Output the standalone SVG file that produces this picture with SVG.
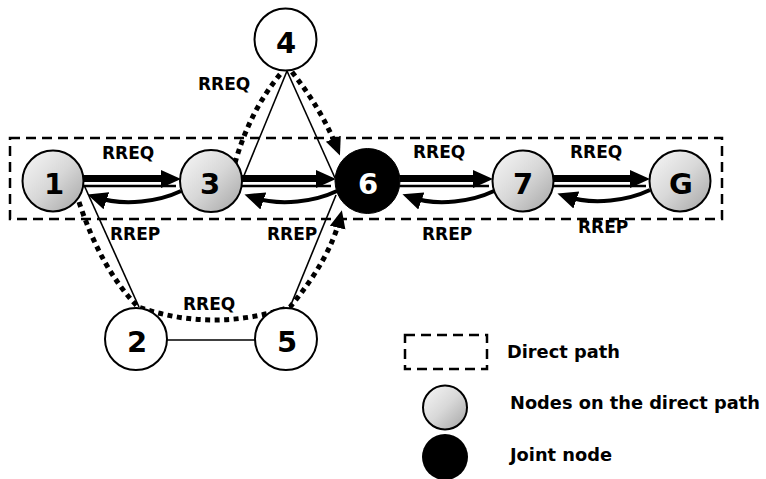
<svg xmlns="http://www.w3.org/2000/svg" width="766" height="479" viewBox="0 0 766 479">
<defs>
<linearGradient id="gr" x1="0" y1="0" x2="1" y2="1">
<stop offset="0" stop-color="#f8f8f8"/>
<stop offset="0.5" stop-color="#d8d8d8"/>
<stop offset="1" stop-color="#a4a4a4"/>
</linearGradient>
<marker id="ah" markerUnits="userSpaceOnUse" markerWidth="20" markerHeight="20" viewBox="0 0 20 20" refX="12" refY="10" orient="auto">
<path d="M0,1 L20,10 L0,19 z" fill="#000"/>
</marker>
<marker id="ahs" markerUnits="userSpaceOnUse" markerWidth="18" markerHeight="18" viewBox="0 0 18 18" refX="10" refY="9" orient="auto">
<path d="M0,1 L18,9 L0,17 z" fill="#000"/>
</marker>
</defs>
<style>
.lbl{font-family:"DejaVu Sans",Verdana,sans-serif;font-weight:bold;font-size:17px;fill:#000}
.leg{font-family:"DejaVu Sans",Verdana,sans-serif;font-weight:bold;font-size:17.8px;fill:#000}
.num{font-family:"DejaVu Sans",Verdana,sans-serif;font-weight:bold;font-size:29px;text-anchor:middle}
.dash{fill:none;stroke:#000;stroke-width:2.5;stroke-dasharray:10 6}
.thin{stroke:#000;stroke-width:1.6;fill:none}
.thick{stroke:#000;stroke-width:7;fill:none}
.thin2{stroke:#000;stroke-width:2.5;fill:none}
.rrep{stroke:#000;stroke-width:4;fill:none;marker-end:url(#ah)}
.dot{stroke:#000;stroke-width:5;fill:none;stroke-dasharray:5 4.5}
.pn{fill:url(#gr);stroke:#000;stroke-width:2}
.wn{fill:#fff;stroke:#000;stroke-width:2}
</style>
<rect width="766" height="479" fill="#fff"/>
<g id="direct-path">
<rect class="dash" x="10" y="138" width="712" height="81"/>
</g>
<g id="connectors">
<line class="thin" x1="84" y1="185" x2="139" y2="307"/>
<line class="thin" x1="167" y1="340" x2="255" y2="340"/>
<line class="thin" x1="290" y1="307" x2="336" y2="195"/>
<line class="thin" x1="243" y1="178" x2="287" y2="71"/>
<line class="thin" x1="287" y1="71" x2="335" y2="178"/>
<path class="dot" d="M79,202 Q101,269 138,307 Q214,333 290,307 Q330,259 340,218" marker-end="url(#ahs)"/>
<path class="dot" d="M235,163 Q250,110 282,72"/>
<path class="dot" d="M292,72 Q322,110 337,148" marker-end="url(#ahs)"/>
<g id="rreq-1-3">
<line class="thick" x1="84" y1="178.5" x2="163" y2="178.5"/>
<line class="thin2" x1="84" y1="186" x2="176" y2="186"/>
<polygon points="161,170 181,179 161,188"/>
</g>
<g id="rreq-3-6">
<line class="thick" x1="242" y1="178.5" x2="318" y2="178.5"/>
<line class="thin2" x1="242" y1="186" x2="331" y2="186"/>
<polygon points="316,170 336,179 316,188"/>
</g>
<g id="rreq-6-7">
<line class="thick" x1="400" y1="178.5" x2="475" y2="178.5"/>
<line class="thin2" x1="400" y1="186" x2="489" y2="186"/>
<polygon points="473,170 493,179 473,188"/>
</g>
<g id="rreq-7-G">
<line class="thick" x1="553" y1="178.5" x2="632" y2="178.5"/>
<line class="thin2" x1="553" y1="186" x2="646" y2="186"/>
<polygon points="630,170 650,179 630,188"/>
</g>
<path class="rrep" d="M181,191 C160,201 125,207 95,197"/>
<path class="rrep" d="M337,191 C316,201 281,207 252,197"/>
<path class="rrep" d="M494,191 C473,201 438,207 410,197"/>
<path class="rrep" d="M650,190 C629,200 594,206 565,196"/>
</g>
<g id="node-1"><circle class="pn" cx="53" cy="181" r="30.5"/><text class="num" x="54" y="194">1</text></g>
<g id="node-3"><circle class="pn" cx="211" cy="181" r="31"/><text class="num" x="210" y="194">3</text></g>
<g id="node-6"><circle cx="367.5" cy="181" r="32.5" fill="#000" stroke="#000" stroke-width="1"/><text class="num" x="368" y="194" fill="#fff">6</text></g>
<g id="node-7"><circle class="pn" cx="523" cy="181" r="30.5"/><text class="num" x="523" y="194">7</text></g>
<g id="node-G"><circle class="pn" cx="680" cy="181" r="30.5"/><text class="num" x="681" y="194">G</text></g>
<g id="node-4"><circle class="wn" cx="285.5" cy="39.5" r="31"/><text class="num" x="286" y="53">4</text></g>
<g id="node-2"><circle class="wn" cx="136" cy="339" r="31"/><text class="num" x="137" y="352">2</text></g>
<g id="node-5"><circle class="wn" cx="286" cy="339" r="31"/><text class="num" x="287" y="352">5</text></g>
<g id="labels">
<text class="lbl" x="102" y="159">RREQ</text>
<text class="lbl" x="198" y="90">RREQ</text>
<text class="lbl" x="413" y="158">RREQ</text>
<text class="lbl" x="570" y="158">RREQ</text>
<text class="lbl" x="183" y="310">RREQ</text>
<text class="lbl" x="110" y="240">RREP</text>
<text class="lbl" x="267" y="240">RREP</text>
<text class="lbl" x="422" y="240">RREP</text>
<text class="lbl" x="578" y="233">RREP</text>
</g>
<g id="legend">
<rect class="dash" x="405" y="335" width="82" height="34"/>
<text class="leg" x="507" y="358">Direct path</text>
<circle class="pn" cx="445" cy="407.5" r="22"/>
<text class="leg" x="510" y="409">Nodes on the direct path</text>
<circle cx="445" cy="457" r="23" fill="#000"/>
<text class="leg" x="510" y="461">Joint node</text>
</g>
</svg>
